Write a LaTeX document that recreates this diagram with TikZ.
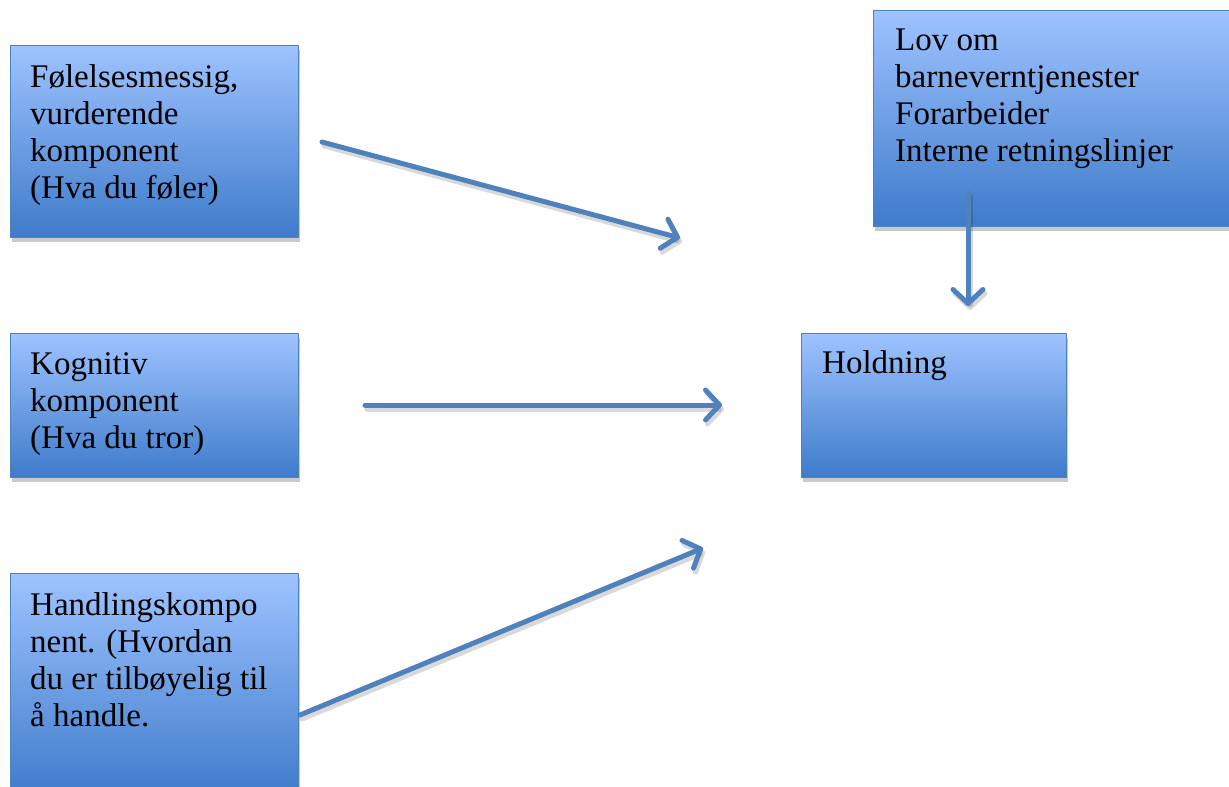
\documentclass[tikz,border=0pt]{standalone}
\usepackage{fontspec}
\setmainfont{Liberation Serif}
\usetikzlibrary{arrows.meta,shadows,positioning}
\definecolor{boxtop}{RGB}{158,195,255}
\definecolor{boxbot}{RGB}{62,123,202}
\definecolor{boxedge}{RGB}{79,129,189}
\definecolor{arrowblue}{RGB}{79,129,189}
\tikzset{
  bluebox/.style={rectangle, draw=boxedge, line width=1pt, top color=boxtop, bottom color=boxbot,
    inner sep=0pt, anchor=north west,
    drop shadow={shadow xshift=1pt, shadow yshift=-4pt, opacity=0.3, fill=black!70}},
  boxtext/.style={anchor=base west, inner sep=0pt, font=\fontsize{33}{37}\selectfont},
  conn/.style={draw=arrowblue, line width=5pt, line cap=round,
    -{Straight Barb[length=14pt,width=30pt,round]}},
  connshadow/.style={draw=black, opacity=0.15, line width=5pt, line cap=round,
    -{Straight Barb[length=14pt,width=30pt,round]}}
}
\begin{document}
\begin{tikzpicture}[x=1pt,y=-1pt]
\useasboundingbox (0,0) rectangle (1229,787);
% boxes
\node[bluebox, minimum width=288pt, minimum height=192pt] (b1) at (10,45) {};
\node[bluebox, minimum width=288pt, minimum height=144pt] (b2) at (10,333) {};
\node[bluebox, minimum width=288pt, minimum height=225pt] (b3) at (10,573) {};
\node[bluebox, minimum width=370pt, minimum height=216pt] (b4) at (873,10) {};
\node[bluebox, minimum width=265pt, minimum height=144pt] (b5) at (801,333) {};
% texts
\node[boxtext] (t1) at (30,87) {\parbox[t]{300pt}{Følelsesmessig,\\vurderende\\komponent\\(Hva du føler)}};
\node[boxtext] (t2) at (30,374) {\parbox[t]{300pt}{Kognitiv\\komponent\\(Hva du tror)}};
\node[boxtext] (t3) at (30,615) {\parbox[t]{300pt}{Handlingskompo\\nent. (Hvordan\\du er tilbøyelig til\\å handle.}};
\node[boxtext] (t4) at (895,50) {\parbox[t]{400pt}{Lov om\\barneverntjenester\\Forarbeider\\Interne retningslinjer}};
\node[boxtext] (t5) at (822,373) {\parbox[t]{300pt}{Holdning}};
% arrow end points
\coordinate (a1s) at (322,142);
\coordinate (a1e) at (680,238);
\coordinate (a2s) at (365,405);
\coordinate (a2e) at (722,405);
\coordinate (a3s) at (300,715);
\coordinate (a3e) at (703,548);
\coordinate (a4s) at (968,193);
\coordinate (a4e) at (968,306);
\coordinate (a1ss) at (324,146);
\coordinate (a1es) at (682,242);
\coordinate (a2ss) at (367,409);
\coordinate (a2es) at (724,409);
\coordinate (a3ss) at (302,719);
\coordinate (a3es) at (705,552);
\coordinate (a4ss) at (970,197);
\coordinate (a4es) at (970,310);
% shadows
\draw[connshadow] (a1ss) -- (a1es);
\draw[connshadow] (a2ss) -- (a2es);
\draw[connshadow] (a3ss) -- (a3es);
\draw[connshadow] (a4ss) -- (a4es);
% arrows
\draw[conn] (a1s) -- (a1e);
\draw[conn] (a2s) -- (a2e);
\draw[conn] (a3s) -- (a3e);
\draw[conn] (a4s) -- (a4e);
\end{tikzpicture}
\end{document}
